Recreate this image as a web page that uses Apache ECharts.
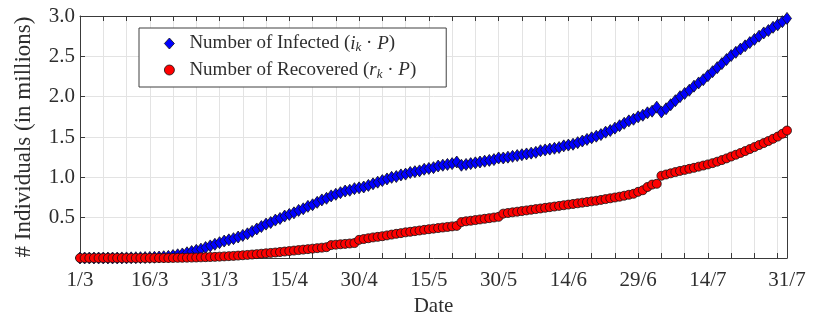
<!DOCTYPE html>
<html>
<head>
<meta charset="utf-8">
<script src="https://cdn.jsdelivr.net/npm/echarts@6/dist/echarts.min.js"></script>
<style>
  html, body { margin: 0; padding: 0; background: #fff; }
  #chart { width: 814px; height: 325px; }
</style>
</head>
<body>
<div id="chart"></div>
<script>
// Daily totals, 1 March (day 0) to 31 July (day 152), in millions.
const infected = [
  0, 0, 0, 0, 0, 0, 0, 0, 0, 0.001,
  0.001, 0.002, 0.003, 0.004, 0.005, 0.007, 0.009, 0.012, 0.016, 0.020,
  0.030, 0.040, 0.050, 0.065, 0.080, 0.095, 0.110, 0.130, 0.150, 0.170,
  0.190, 0.210, 0.225, 0.240, 0.260, 0.280, 0.300, 0.330, 0.360, 0.390,
  0.420, 0.440, 0.470, 0.490, 0.520, 0.540, 0.560, 0.590, 0.610, 0.640,
  0.660, 0.690, 0.720, 0.740, 0.770, 0.790, 0.810, 0.830, 0.840, 0.860,
  0.870, 0.880, 0.900, 0.920, 0.940, 0.960, 0.980, 1.000, 1.010, 1.030,
  1.040, 1.060, 1.070, 1.080, 1.100, 1.110, 1.120, 1.140, 1.150, 1.160,
  1.170, 1.190, 1.150, 1.160, 1.170, 1.180, 1.190, 1.200, 1.210, 1.220,
  1.240, 1.240, 1.250, 1.260, 1.270, 1.280, 1.290, 1.300, 1.310, 1.330,
  1.340, 1.350, 1.360, 1.370, 1.390, 1.400, 1.410, 1.430, 1.450, 1.470,
  1.490, 1.510, 1.530, 1.560, 1.580, 1.610, 1.640, 1.670, 1.700, 1.720,
  1.750, 1.770, 1.800, 1.820, 1.870, 1.810, 1.850, 1.900, 1.950, 2.000,
  2.040, 2.080, 2.130, 2.170, 2.210, 2.260, 2.310, 2.360, 2.410, 2.460,
  2.510, 2.550, 2.590, 2.630, 2.670, 2.710, 2.750, 2.790, 2.820, 2.860,
  2.890, 2.930, 2.970
];

const recovered = [
  0, 0, 0, 0, 0, 0, 0, 0, 0, 0,
  0, 0, 0, 0, 0, 0, 0, 0, 0, 0,
  0.001, 0.002, 0.003, 0.004, 0.005, 0.006, 0.008, 0.010, 0.012, 0.014,
  0.017, 0.020, 0.023, 0.026, 0.030, 0.034, 0.038, 0.043, 0.048, 0.053,
  0.058, 0.063, 0.068, 0.074, 0.080, 0.086, 0.092, 0.098, 0.104, 0.110,
  0.116, 0.122, 0.128, 0.134, 0.160, 0.165, 0.170, 0.175, 0.180, 0.185,
  0.225, 0.235, 0.245, 0.255, 0.262, 0.270, 0.280, 0.290, 0.300, 0.308,
  0.318, 0.325, 0.333, 0.341, 0.349, 0.357, 0.364, 0.371, 0.378, 0.385,
  0.392, 0.398, 0.445, 0.455, 0.462, 0.470, 0.478, 0.486, 0.494, 0.502,
  0.510, 0.550, 0.558, 0.566, 0.574, 0.582, 0.590, 0.598, 0.606, 0.614,
  0.622, 0.630, 0.638, 0.646, 0.654, 0.662, 0.670, 0.678, 0.686, 0.694,
  0.702, 0.710, 0.720, 0.730, 0.740, 0.750, 0.760, 0.772, 0.784, 0.796,
  0.820, 0.840, 0.880, 0.910, 0.920, 1.020, 1.035, 1.050, 1.065, 1.080,
  1.092, 1.105, 1.118, 1.132, 1.146, 1.160, 1.176, 1.194, 1.214, 1.235,
  1.258, 1.280, 1.302, 1.325, 1.350, 1.375, 1.400, 1.425, 1.450, 1.478,
  1.505, 1.540, 1.580
];

// Labelled dates on the horizontal axis (day offset -> text).
const tickDays = [0, 15, 30, 45, 60, 75, 90, 105, 120, 135, 152];
const tickLabels = ['1/3', '16/3', '31/3', '15/4', '30/4', '15/5', '30/5', '14/6', '29/6', '14/7', '31/7'];

const FONT = 'Liberation Serif';
const TEXT_COLOR = '#2e2e2e';
const AXIS_COLOR = '#3a3a3a';
const GRID_COLOR = '#e3e3e3';

const toPairs = arr => arr.map((v, i) => [i, v]);

const labelFor = v => {
  const k = tickDays.indexOf(Math.round(v));
  return k >= 0 ? tickLabels[k] : '';
};

const xCommon = {
  type: 'value',
  min: 0,
  max: 152,
  interval: 5,
  axisLine: { show: true, onZero: false, lineStyle: { color: AXIS_COLOR, width: 1 } },
  axisTick: { show: true, inside: true, length: 5, lineStyle: { color: AXIS_COLOR } },
  splitLine: { show: false }
};

const yCommon = {
  type: 'value',
  min: 0,
  max: 3,
  interval: 0.5,
  axisLine: { show: true, onZero: false, lineStyle: { color: AXIS_COLOR, width: 1 } },
  axisTick: { show: true, inside: true, length: 5, lineStyle: { color: AXIS_COLOR } },
  splitLine: { show: false }
};

const chart = echarts.init(document.getElementById('chart'), null, { renderer: 'canvas' });

chart.setOption({
  animation: false,
  backgroundColor: '#ffffff',
  grid: { left: 80, right: 27, top: 16, bottom: 67, containLabel: false },
  xAxis: [
    Object.assign({}, xCommon, {
      position: 'bottom',
      name: 'Date',
      nameLocation: 'middle',
      nameGap: 36,
      nameTextStyle: { fontFamily: FONT, fontSize: 21, color: TEXT_COLOR },
      splitLine: { show: true, lineStyle: { color: GRID_COLOR, width: 1 } },
      axisLabel: {
        show: true,
        interval: 0,
        hideOverlap: false,
        showMinLabel: true,
        showMaxLabel: true,
        margin: 12,
        fontFamily: FONT,
        fontSize: 21,
        color: TEXT_COLOR,
        formatter: labelFor
      }
    }),
    Object.assign({}, xCommon, {
      position: 'top',
      axisLabel: { show: false }
    })
  ],
  yAxis: [
    Object.assign({}, yCommon, {
      position: 'left',
      name: '# Individuals (in millions)',
      nameLocation: 'middle',
      nameGap: 45,
      nameRotate: 90,
      nameTextStyle: { fontFamily: FONT, fontSize: 23, color: TEXT_COLOR },
      splitLine: { show: true, lineStyle: { color: GRID_COLOR, width: 1 } },
      axisLabel: {
        show: true,
        margin: 5,
        fontFamily: FONT,
        fontSize: 21,
        color: TEXT_COLOR,
        formatter: v => (v === 0 ? '' : v.toFixed(1))
      }
    }),
    Object.assign({}, yCommon, {
      position: 'right',
      axisLabel: { show: false }
    })
  ],
  legend: {
    left: 139,
    top: 28,
    orient: 'vertical',
    backgroundColor: '#ffffff',
    borderColor: '#404040',
    borderWidth: 1,
    borderRadius: 0,
    padding: [6, 30, 6, 25],
    itemGap: 6,
    itemWidth: 10,
    itemHeight: 11,
    selectedMode: false,
    textStyle: {
      fontFamily: FONT,
      fontSize: 19,
      color: TEXT_COLOR,
      padding: [0, 0, 0, 10],
      rich: {
        it: { fontFamily: FONT, fontStyle: 'italic', fontSize: 19, color: TEXT_COLOR },
        sub: { fontFamily: FONT, fontStyle: 'italic', fontSize: 13, color: TEXT_COLOR, padding: [9, 0, 0, 0] },
        t: { fontFamily: FONT, fontSize: 19, color: TEXT_COLOR }
      }
    },
    formatter: name => {
      if (name === 'infected') return '{t|Number of Infected (}{it|i}{sub|k}{t| · }{it|P}{t|)}';
      return '{t|Number of Recovered (}{it|r}{sub|k}{t| · }{it|P}{t|)}';
    },
    data: [
      { name: 'infected', icon: 'diamond', itemStyle: { color: '#0000ff', borderColor: '#111', borderWidth: 0.8 } },
      { name: 'recovered', icon: 'circle', itemStyle: { color: '#ff0000', borderColor: '#111', borderWidth: 0.8 } }
    ]
  },
  series: [
    {
      name: 'infected',
      type: 'scatter',
      xAxisIndex: 0,
      yAxisIndex: 0,
      symbol: 'diamond',
      symbolSize: [9, 12],
      itemStyle: { color: '#0000ff', borderColor: '#111', borderWidth: 0.8, opacity: 1 },
      data: toPairs(infected)
    },
    {
      name: 'recovered',
      type: 'scatter',
      xAxisIndex: 0,
      yAxisIndex: 0,
      symbol: 'circle',
      symbolSize: 9,
      itemStyle: { color: '#ff0000', borderColor: '#111', borderWidth: 0.8, opacity: 1 },
      data: toPairs(recovered)
    }
  ]
});
</script>
</body>
</html>
